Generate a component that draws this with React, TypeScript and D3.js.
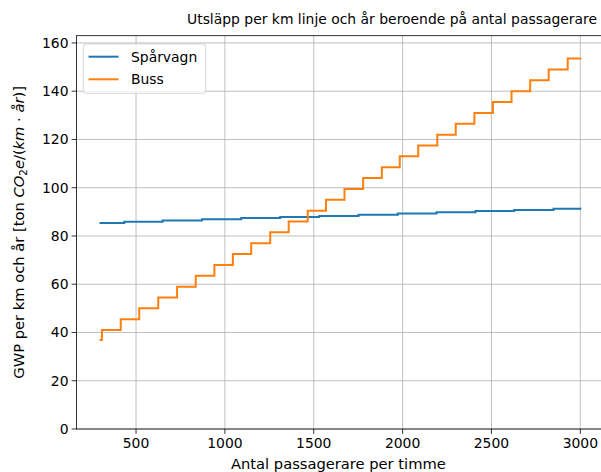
import React from 'react';
import * as d3 from 'd3';

// passagerare per timme där antalet fordon ökar
const tramJumps = [434, 649, 871, 1092, 1311, 1531, 1752, 1973, 2191, 2410, 2628, 2849];
const tramLevels = [85.4, 85.9, 86.4, 86.9, 87.4, 87.9, 88.3, 88.8, 89.3, 89.8, 90.3, 90.8, 91.3];

const busJumps = [308, 414, 518, 625, 731, 836, 941, 1045, 1148, 1255, 1359, 1466, 1569,
  1673, 1778, 1883, 1984, 2088, 2195, 2299, 2404, 2508, 2613, 2718, 2822, 2929];
const busLevels = [36.9, 41.0, 45.5, 50.0, 54.5, 59.0, 63.5, 68.0, 72.5, 77.0, 81.5, 86.0, 90.5,
  95.0, 99.5, 104.0, 108.5, 113.0, 117.5, 122.0, 126.5, 131.0, 135.5, 140.0, 144.5, 149.0, 153.5];

const xStart = 300;
const xEnd = 3000;
const xTicks = [500, 1000, 1500, 2000, 2500, 3000];
const yTicks = [0, 20, 40, 60, 80, 100, 120, 140, 160];

const seriesNames = ['Spårvagn', 'Buss'];
const colors = ['#1f77b4', '#ff7f0e'];

const W = 601, H = 472;
const left = 76.5, right = 604.3, top = 35.7, bottom = 429;
const font = 'DejaVu Sans, sans-serif';

type Pt = [number, number];

// bygger trappstegspunkter: start, varje hopp, slut
function stepPoints(jumps: number[], levels: number[]): Pt[] {
  const pts: Pt[] = [[xStart, levels[0]]];
  jumps.forEach((j, i) => pts.push([j, levels[i + 1]]));
  pts.push([xEnd, levels[levels.length - 1]]);
  return pts;
}

const App: React.FC = () => {
  const x = d3.scaleLinear().domain([165, 3135]).range([left, right]);
  const y = d3.scaleLinear().domain([0, 163]).range([bottom, top]);

  const line = d3.line<Pt>()
    .x(d => x(d[0]))
    .y(d => y(d[1]))
    .curve(d3.curveStepAfter);

  const series = [stepPoints(tramJumps, tramLevels), stepPoints(busJumps, busLevels)];

  return (
    <svg width={W} height={H} style={{ position: 'absolute', left: 0, top: 0, background: '#fff' }}
      fontFamily={font}>
      <rect width={W} height={H} fill="#fff" />
      <defs>
        <clipPath id="plot">
          <rect x={left} y={top} width={right - left} height={bottom - top} />
        </clipPath>
      </defs>

      {/* rutnät */}
      {xTicks.map(t => (
        <line key={'gx' + t} x1={x(t)} x2={x(t)} y1={top} y2={bottom} stroke="#b0b0b0" strokeWidth={0.8} />
      ))}
      {yTicks.map(t => (
        <line key={'gy' + t} x1={left} x2={right} y1={y(t)} y2={y(t)} stroke="#b0b0b0" strokeWidth={0.8} />
      ))}

      {/* linjer */}
      <g clipPath="url(#plot)">
        {series.map((s, i) => (
          <path key={i} d={line(s) || ''} fill="none" stroke={colors[i]} strokeWidth={2}
            strokeLinejoin="miter" strokeLinecap="square" />
        ))}
      </g>

      {/* ramar */}
      <rect x={left} y={top} width={right - left} height={bottom - top} fill="none" stroke="#000" strokeWidth={0.8} />

      {/* x-axel */}
      {xTicks.map(t => (
        <g key={'xt' + t}>
          <line x1={x(t)} x2={x(t)} y1={bottom} y2={bottom + 4.9} stroke="#000" strokeWidth={0.8} />
          <text x={x(t)} y={bottom + 19} textAnchor="middle" fontSize={13.9} fill="#000">{t}</text>
        </g>
      ))}
      <text x={(left + right) / 2 - 2} y={469} textAnchor="middle" fontSize={14.7} fill="#000">
        Antal passagerare per timme
      </text>

      {/* y-axel */}
      {yTicks.map(t => (
        <g key={'yt' + t}>
          <line x1={left - 4.9} x2={left} y1={y(t)} y2={y(t)} stroke="#000" strokeWidth={0.8} />
          <text x={left - 8} y={y(t) + 5} textAnchor="end" fontSize={13.9} fill="#000">{t}</text>
        </g>
      ))}
      <text transform={`translate(24,${(top + bottom) / 2}) rotate(-90)`} textAnchor="middle"
        fontSize={14.7} fill="#000">
        GWP per km och år [ton <tspan fontStyle="italic">CO</tspan>
        <tspan fontSize={10.3} dy={3}>2</tspan>
        <tspan dy={-3} fontStyle="italic">e</tspan>/(<tspan fontStyle="italic">km</tspan>
        {' \u00b7 '}<tspan fontStyle="italic">år</tspan>)]
      </text>

      {/* titel */}
      <text x={187} y={24} fontSize={13.8} fill="#000" textLength={410} lengthAdjust="spacingAndGlyphs">
        Utsläpp per km linje och år beroende på antal passagerare
      </text>

      {/* förklaring */}
      <rect x={83.3} y={44} width={122.4} height={49.3} rx={3} fill="#fff" fillOpacity={0.8}
        stroke="#cccccc" strokeWidth={0.8} />
      {seriesNames.map((n, i) => (
        <g key={n}>
          <line x1={88.5} x2={118.5} y1={56.7 + i * 22.6} y2={56.7 + i * 22.6} stroke={colors[i]} strokeWidth={2} />
          <text x={131} y={61.7 + i * 22.6} fontSize={13.9} fill="#000">{n}</text>
        </g>
      ))}
    </svg>
  );
};

export default App;
